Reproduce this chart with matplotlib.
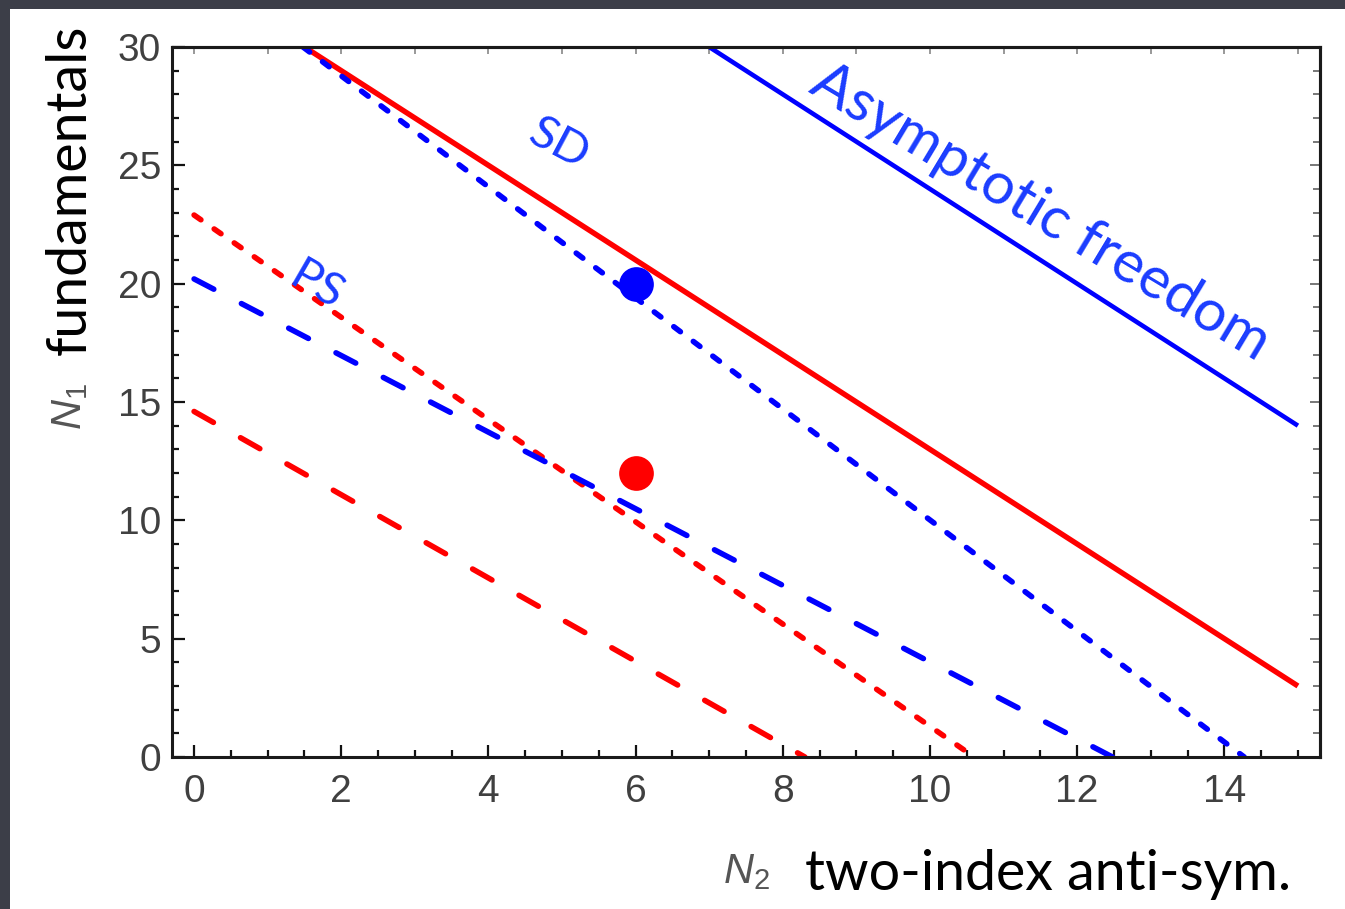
import numpy as np
import matplotlib
matplotlib.use('Agg')
import matplotlib.pyplot as plt
from matplotlib.patches import Rectangle

# N2 (two-index anti-sym.) vs N1 (fundamentals), line end points
af_x = [7.0, 15.0]          # asymptotic freedom, blue solid
af_y = [30.0, 14.0]
red_solid_x = [1.5, 15.0]
red_solid_y = [30.0, 3.0]
sd_blue_x = [1.48, 14.27]   # blue dotted
sd_blue_y = [30.0, 0.0]
red_dot_x = [0.0, 10.6]     # red dotted
red_dot_y = [22.9, 0.0]
ps_blue_x = [0.0, 12.48]    # blue dashed
ps_blue_y = [20.2, 0.0]
red_dash_x = [0.0, 8.3]     # red dashed
red_dash_y = [14.6, 0.0]
pt_blue = (6, 20)
pt_red = (6, 12)

plt.rcParams['mathtext.fontset'] = 'custom'
plt.rcParams['mathtext.rm'] = 'Liberation Sans'
plt.rcParams['mathtext.it'] = 'Liberation Sans:italic'
plt.rcParams['font.family'] = ['Liberation Sans', 'DejaVu Sans']
hand = ['Lato', 'DejaVu Sans']
BLUE = '#0000ff'
RED = '#ff0000'
TXTBLUE = '#1a3cff'
GREY = '#404040'

fig = plt.figure(figsize=(13.45, 9.09), dpi=100, facecolor='#3c3e48')
fig.patches.append(Rectangle((10/1345, 0), 1, 1 - 9/909, transform=fig.transFigure,
                             facecolor='white', edgecolor='none', zorder=-10))
ax = fig.add_axes([172/1345, 152/909, 1148/1345, 710/909])

lw = 4.0
ax.plot(af_x, af_y, color=BLUE, lw=3.3, solid_capstyle='butt')
ax.plot(red_solid_x, red_solid_y, color=RED, lw=3.9, solid_capstyle='butt')
ax.plot(sd_blue_x, sd_blue_y, color=BLUE, lw=lw, linestyle=(0, (1.5, 2.9)), dash_capstyle='round')
ax.plot(red_dot_x, red_dot_y, color=RED, lw=lw, linestyle=(0, (1.5, 2.9)), dash_capstyle='round')
ax.plot(ps_blue_x, ps_blue_y, color=BLUE, lw=lw, linestyle=(0, (4.0, 5.6)), dash_capstyle='round')
ax.plot(red_dash_x, red_dash_y, color=RED, lw=lw, linestyle=(0, (4.0, 5.6)), dash_capstyle='round')
ax.plot(*pt_blue, 'o', color=BLUE, ms=25, mec='none', zorder=5)
ax.plot(*pt_red, 'o', color=RED, ms=25, mec='none', zorder=5)

ax.set_xlim(-0.3, 15.3)
ax.set_ylim(0, 30)
ax.set_xticks(np.arange(0, 15, 2))
ax.set_xticks(np.arange(0, 15.3, 0.5), minor=True)
ax.set_yticks(np.arange(0, 31, 5))
ax.set_yticks(np.arange(0, 31, 1), minor=True)
ax.tick_params(which='both', direction='in', top=False, right=False, color='#111', width=1.6,
               labelsize=28, labelcolor=GREY)
ax.tick_params(which='major', length=9)
ax.tick_params(which='minor', length=5)
ax.tick_params(axis='x', pad=12)
ax.tick_params(axis='y', pad=8)
for sp in ax.spines.values():
    sp.set_linewidth(2.2)
    sp.set_color('#1a1a1a')

top = ax.secondary_xaxis('top')
top.set_xticks(np.arange(0, 16, 1))
top.tick_params(direction='in', length=5, width=1.4, color='#999', labeltop=False)
top.spines['top'].set_linewidth(2.2)
top.spines['top'].set_color('#1a1a1a')
rgt = ax.secondary_yaxis('right')
rgt.set_yticks(np.arange(0, 31, 5))
rgt.set_yticks(np.arange(0, 31, 1), minor=True)
rgt.tick_params(which='major', direction='in', length=7, width=1.4, color='#777', labelright=False)
rgt.tick_params(which='minor', direction='in', length=5, width=1.4, color='#777', labelright=False)
rgt.spines['right'].set_linewidth(2.2)
rgt.spines['right'].set_color('#1a1a1a')

ax.text(11.5, 23.0, 'Asymptotic freedom', color=TXTBLUE, fontsize=42, family=hand,
        rotation=-31, ha='center', va='center', rotation_mode='anchor')
ax.text(4.95, 25.9, 'SD', color=TXTBLUE, fontsize=34, family=hand,
        rotation=-28, ha='center', va='center', rotation_mode='anchor')
ax.text(1.66, 19.9, 'PS', color=TXTBLUE, fontsize=34, family=hand,
        rotation=-30, ha='center', va='center', rotation_mode='anchor')

fig.text(746/1345, 1 - 872/909, r'$N_{\mathrm{2}}$', color='#555', fontsize=30,
         ha='center', va='center')
fig.text(805/1345, 1 - 874/909, 'two-index anti-sym.', color='black', fontsize=40,
         family=hand, ha='left', va='center')
fig.text(70/1345, 1 - 407/909, r'$N_{\mathrm{1}}$', color='#555', fontsize=30,
         ha='center', va='center', rotation=90)
fig.text(70/1345, 1 - 190/909, 'fundamentals', color='black', fontsize=40,
         family=hand, ha='center', va='center', rotation=90)

fig.savefig('out.png', dpi=100, facecolor=fig.get_facecolor())
